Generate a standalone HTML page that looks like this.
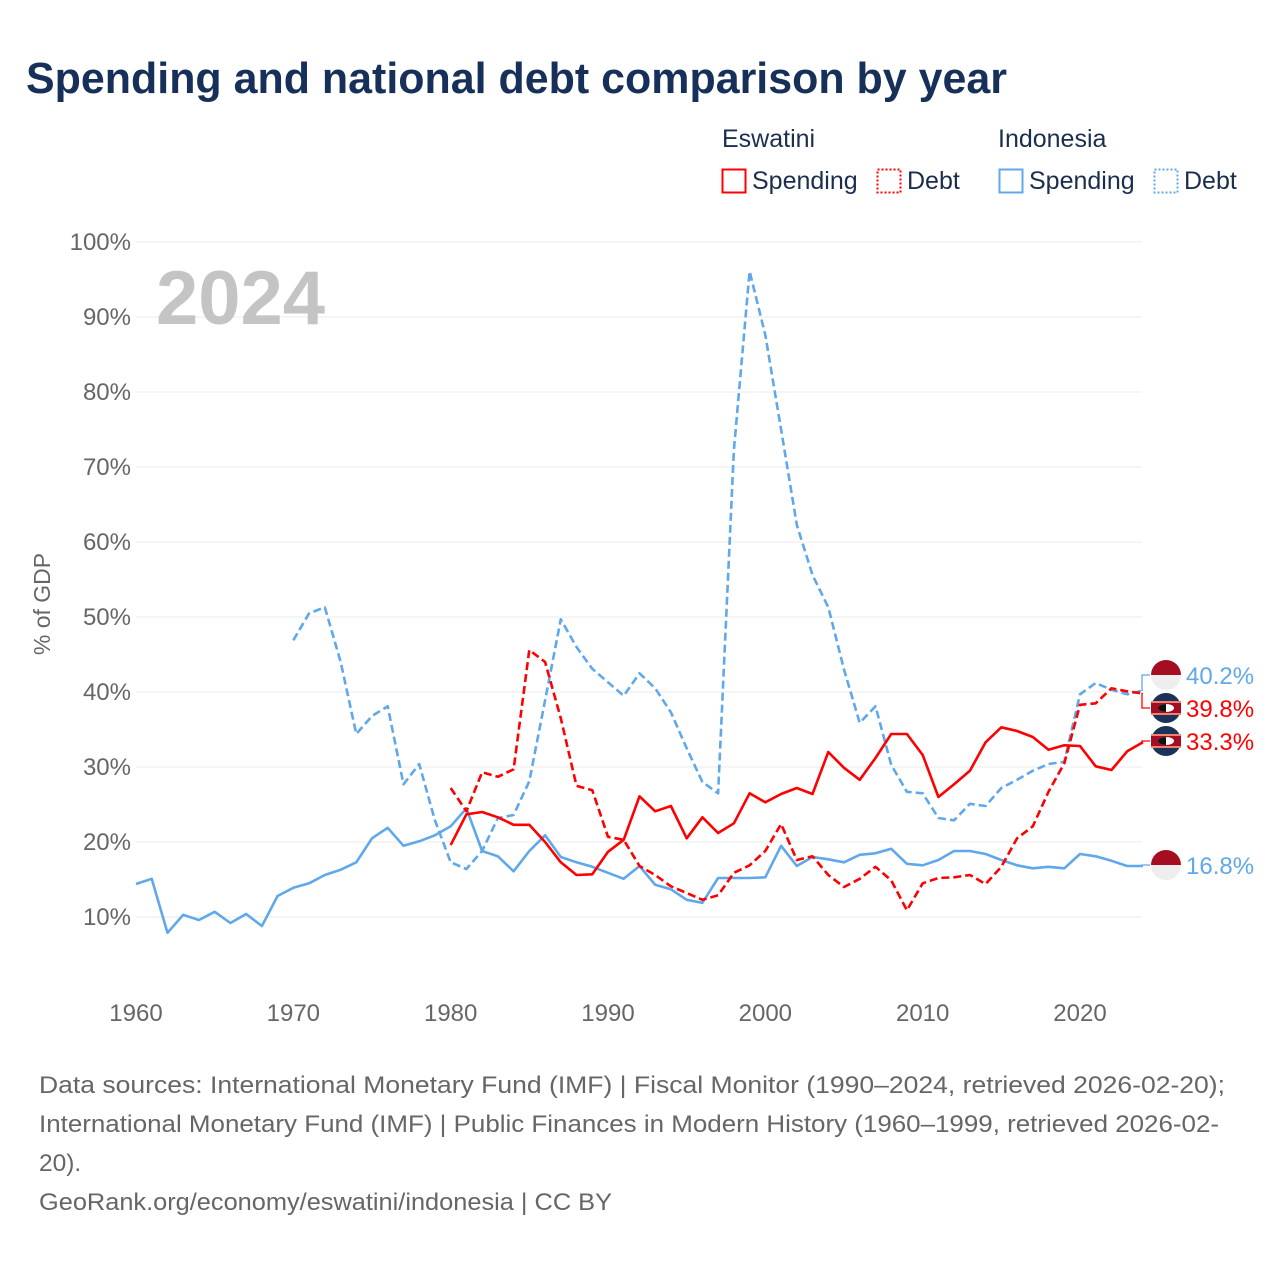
<!DOCTYPE html>
<html><head><meta charset="utf-8"><style>
body{margin:0;background:#fff;}
svg text{font-family:"Liberation Sans",sans-serif;}
</style></head><body>
<svg width="1280" height="1280" viewBox="0 0 1280 1280" xmlns="http://www.w3.org/2000/svg">
<rect width="1280" height="1280" fill="#fff"/>
<text x="26" y="93" font-size="44" font-weight="bold" fill="#17305a" textLength="981" lengthAdjust="spacingAndGlyphs">Spending and national debt comparison by year</text>
<g font-size="25" fill="#1b2e4d">
<text x="722" y="147">Eswatini</text>
<text x="998" y="147">Indonesia</text>
<g><rect x="722.5" y="169.5" width="23" height="23" fill="none" stroke="#f00" stroke-width="2"/><text x="752" y="189">Spending</text></g>
<g><rect x="877.5" y="169.5" width="23" height="23" fill="none" stroke="#f00" stroke-width="2" stroke-dasharray="2 2"/><text x="907" y="189">Debt</text></g>
<g><rect x="999.5" y="169.5" width="23" height="23" fill="none" stroke="#5fa8ec" stroke-width="2"/><text x="1029" y="189">Spending</text></g>
<g><rect x="1154.5" y="169.5" width="23" height="23" fill="none" stroke="#5fa8ec" stroke-width="2" stroke-dasharray="2 2"/><text x="1184" y="189">Debt</text></g>
</g>
<g id="grid"></g>
<g id="yticks" font-size="24" fill="#666"></g>
<g id="xticks" font-size="24" fill="#666"></g>
<text transform="translate(50,604) rotate(-90)" text-anchor="middle" font-size="23" fill="#666">% of GDP</text>
<text x="156" y="324" font-size="76" font-weight="bold" fill="#c4c4c4">2024</text>
<g id="series"></g>
<g id="labels"></g>
<g font-size="24.5" fill="#666">
<text x="39" y="1093" textLength="1186" lengthAdjust="spacingAndGlyphs">Data sources: International Monetary Fund (IMF) | Fiscal Monitor (1990–2024, retrieved 2026-02-20);</text>
<text x="39" y="1132" textLength="1180" lengthAdjust="spacingAndGlyphs">International Monetary Fund (IMF) | Public Finances in Modern History (1960–1999, retrieved 2026-02-</text>
<text x="39" y="1171">20).</text>
<text x="39" y="1210" textLength="573" lengthAdjust="spacingAndGlyphs">GeoRank.org/economy/eswatini/indonesia | CC BY</text>
</g>
</svg>
<script>
const yTicks=[10,20,30,40,50,60,70,80,90,100];
const xTicks=[1960,1970,1980,1990,2000,2010,2020];
const idnSpendStart=1960;
const idnSpend=[14.4,15.1,7.9,10.3,9.6,10.7,9.2,10.4,8.8,12.8,13.9,14.5,15.6,16.3,17.3,20.5,21.9,19.5,20.1,20.9,22.1,24.5,18.8,18.1,16.1,18.8,20.9,18,17.3,16.7,15.9,15.1,16.8,14.3,13.7,12.3,11.9,15.2,15.2,15.2,15.3,19.5,16.8,18,17.7,17.3,18.3,18.5,19.1,17.1,16.9,17.6,18.8,18.8,18.4,17.6,16.9,16.5,16.7,16.5,18.4,18.1,17.5,16.8,16.8];
const idnDebtStart=1970;
const idnDebt=[46.9,50.5,51.3,44.1,34.4,36.8,38.1,27.7,30.4,22.9,17.3,16.4,18.8,23.2,23.6,28.1,38.9,49.7,46,43.1,41.3,39.5,42.5,40.5,37.3,32.5,28,26.5,72.3,96.1,87.6,75,62.3,55.6,51.3,43,35.9,38.1,30.3,26.7,26.5,23.2,22.9,25.1,24.8,27.2,28.3,29.5,30.4,30.7,39.7,41.2,40.3,39.7,40.2];
const swzSpendStart=1980;
const swzSpend=[19.6,23.7,24,23.3,22.3,22.3,20,17.3,15.6,15.7,18.7,20.3,26.1,24.1,24.8,20.5,23.3,21.2,22.5,26.5,25.3,26.4,27.2,26.4,32,29.9,28.3,31.2,34.4,34.4,31.6,26,27.7,29.5,33.3,35.3,34.8,34,32.3,32.9,32.8,30.1,29.6,32.1,33.3];
const swzDebtStart=1980;
const swzDebt=[27.2,24.1,29.3,28.7,29.7,45.6,44,36.5,27.5,26.9,20.7,20.3,16.8,15.6,14.1,13.2,12.3,12.9,15.9,16.9,18.8,22.4,17.6,18.1,15.6,14,15.1,16.7,14.9,10.9,14.5,15.2,15.3,15.6,14.4,16.7,20.5,22.1,26.7,30.5,38.3,38.5,40.5,40.1,39.8];
const endLabels=["40.2%","39.8%","33.3%","16.8%"];

const NS="http://www.w3.org/2000/svg";
function sx(yr){return 136+(yr-1960)*(944/60);}
function sy(v){return 992-v*7.5;}
function mk(tag,attrs,parent){const e=document.createElementNS(NS,tag);for(const k in attrs)e.setAttribute(k,attrs[k]);parent.appendChild(e);return e;}
const grid=document.getElementById('grid'),yt=document.getElementById('yticks'),xt=document.getElementById('xticks');
yTicks.forEach(v=>{
 const l=mk('line',{x1:136,x2:1142,y1:sy(v),y2:sy(v),stroke:'#ebebeb','stroke-width':1},grid);
 
 
 const t=mk('text',{x:131,y:sy(v)+8,'text-anchor':'end'},yt);t.textContent=v+'%';
 
 
});
xTicks.forEach(v=>{
 const t=mk('text',{x:sx(v),y:1021,'text-anchor':'middle'},xt);t.textContent=v;
 
 
});
const ser=document.getElementById('series');
function line(arr,start,color,dash,name){
 const pts=arr.map((v,i)=>sx(start+i).toFixed(1)+','+sy(v).toFixed(1)).join(' ');
 const p=mk('polyline',{points:pts,fill:'none',stroke:color,'stroke-width':2.6,'stroke-linejoin':'round'},ser);
 if(dash)p.setAttribute('stroke-dasharray',dash);
 
 
}
line(idnSpend,idnSpendStart,'#5fa8ec',null,'indonesia-spending-line');
line(idnDebt,idnDebtStart,'#5fa8ec','8 4','indonesia-debt-line');
line(swzSpend,swzSpendStart,'#f00',null,'eswatini-spending-line');
line(swzDebt,swzDebtStart,'#f00','8 4','eswatini-debt-line');

const lab=document.getElementById('labels');
const lastX=sx(2024);
const items=[
 {v:idnDebt[idnDebt.length-1],ly:675,c:'#5fa8ec',f:'idn',t:endLabels[0]},
 {v:swzDebt[swzDebt.length-1],ly:708,c:'#f00',f:'swz',t:endLabels[1]},
 {v:swzSpend[swzSpend.length-1],ly:741,c:'#f00',f:'swz',t:endLabels[2]},
 {v:idnSpend[idnSpend.length-1],ly:865,c:'#5fa8ec',f:'idn',t:endLabels[3]}
];
items.forEach(it=>{
 const y0=sy(it.v);
 const pl=mk('polyline',{points:`${lastX},${y0} 1142,${y0} 1142,${it.ly} 1150,${it.ly}`,fill:'none',stroke:it.c,'stroke-width':1.3},lab);
 
 
 const g=mk('g',{},lab);
 
 
 const cx=1166,cy=it.ly,r=15;
 if(it.f==='idn'){
  mk('path',{d:`M${cx-r},${cy} A${r},${r} 0 0 1 ${cx+r},${cy} Z`,fill:'#a50d20'},g);
  mk('path',{d:`M${cx-r},${cy} A${r},${r} 0 0 0 ${cx+r},${cy} Z`,fill:'#eee'},g);
 } else {
  mk('circle',{cx:cx,cy:cy,r:r,fill:'#1b3358'},g);
  mk('rect',{x:cx-r,y:cy-7,width:2*r,height:14,fill:'#f08070'},g);
  mk('rect',{x:cx-r,y:cy-5,width:2*r,height:10,fill:'#a50d20'},g);
  mk('ellipse',{cx:cx,cy:cy,rx:8,ry:4,fill:'#fff'},g);
  mk('path',{d:`M${cx},${cy-4} A8,4 0 0 0 ${cx},${cy+4} Z`,fill:'#111'},g);
 }
 const t=mk('text',{x:1186,y:it.ly+9,'font-size':24,fill:it.c},lab);
 t.textContent=it.t;
 
 
});
</script>
</body></html>
